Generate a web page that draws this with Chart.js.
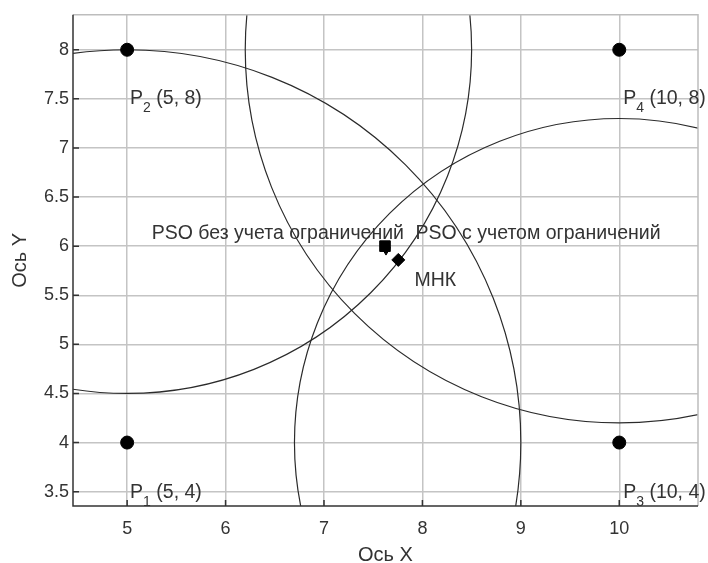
<!DOCTYPE html>
<html>
<head>
<meta charset="utf-8">
<script src="https://cdn.jsdelivr.net/npm/chart.js@4.4.0/dist/chart.umd.min.js"></script>
<style>
  html, body { margin: 0; padding: 0; background: #fff; }
  #wrap { width: 708px; height: 563px; }
</style>
</head>
<body>
<div id="wrap"><canvas id="chart"></canvas></div>
<script>
// Anchor points (P1..P4)
const anchorX = [5, 5, 10, 10];
const anchorY = [4, 8, 4, 8];
const anchorNames = ['1', '2', '3', '4'];
// Measured distance from each anchor (circle radius)
const radii = [4, 3.5, 3.3, 3.8];

// Position estimates
const psoFreeX = [7.62];
const psoFreeY = [6.0];
const psoBoundX = [7.63];
const psoBoundY = [5.96];
const lsqX = [7.755];
const lsqY = [5.86];

const xTicks = [5, 6, 7, 8, 9, 10];
const yTicks = [3.5, 4, 4.5, 5, 5.5, 6, 6.5, 7, 7.5, 8];

const textColor = '#333';
const fontFamily = '"Liberation Sans", Arial, sans-serif';

// Text labels in data coordinates
const labels = [
    { x: 5.03, y: 3.49, text: 'P', sub: anchorNames[0], rest: ' (5, 4)' },
    { x: 5.03, y: 7.5, text: 'P', sub: anchorNames[1], rest: ' (5, 8)' },
    { x: 10.04, y: 3.49, text: 'P', sub: anchorNames[2], rest: ' (10, 4)' },
    { x: 10.04, y: 7.5, text: 'P', sub: anchorNames[3], rest: ' (10, 8)' },
    { x: 5.25, y: 6.125, text: 'PSO без учета ограничений' },
    { x: 7.93, y: 6.125, text: 'PSO с учетом ограничений' },
    { x: 7.92, y: 5.65, text: 'МНК' }
];

const circlesPlugin = {
    id: 'circles',
    beforeDatasetsDraw(chart) {
        const { ctx, chartArea, scales: { x, y } } = chart;
        ctx.save();
        ctx.beginPath();
        ctx.rect(chartArea.left, chartArea.top, chartArea.right - chartArea.left, chartArea.bottom - chartArea.top);
        ctx.clip();
        ctx.strokeStyle = '#2b2b2b';
        ctx.lineWidth = 1.2;
        anchorX.forEach((cx, i) => {
            const px = x.getPixelForValue(cx);
            const py = y.getPixelForValue(anchorY[i]);
            const rx = Math.abs(x.getPixelForValue(cx + radii[i]) - px);
            const ry = Math.abs(y.getPixelForValue(anchorY[i] + radii[i]) - py);
            ctx.beginPath();
            ctx.ellipse(px, py, rx, ry, 0, 0, Math.PI * 2);
            ctx.stroke();
        });
        ctx.restore();
    }
};

const framePlugin = {
    id: 'frame',
    afterDraw(chart) {
        const { ctx, chartArea: a, scales: { x, y } } = chart;
        ctx.save();
        // light top and right edges
        ctx.strokeStyle = '#bdbdbd';
        ctx.lineWidth = 1.5;
        ctx.beginPath();
        ctx.moveTo(a.left, a.top);
        ctx.lineTo(a.right, a.top);
        ctx.lineTo(a.right, a.bottom);
        ctx.stroke();
        // dark axes with inward ticks
        ctx.strokeStyle = '#333';
        ctx.lineWidth = 1.5;
        ctx.beginPath();
        ctx.moveTo(a.left, a.top);
        ctx.lineTo(a.left, a.bottom);
        ctx.lineTo(a.right, a.bottom);
        xTicks.forEach(v => {
            const px = x.getPixelForValue(v);
            ctx.moveTo(px, a.bottom);
            ctx.lineTo(px, a.bottom - 6);
        });
        yTicks.forEach(v => {
            const py = y.getPixelForValue(v);
            ctx.moveTo(a.left, py);
            ctx.lineTo(a.left + 6, py);
        });
        ctx.stroke();

        // labels
        ctx.fillStyle = textColor;
        ctx.textBaseline = 'middle';
        ctx.textAlign = 'left';
        labels.forEach(l => {
            let px = x.getPixelForValue(l.x);
            const py = y.getPixelForValue(l.y);
            ctx.font = '19.5px ' + fontFamily;
            ctx.fillText(l.text, px, py);
            px += ctx.measureText(l.text).width;
            if (l.sub) {
                ctx.font = '14px ' + fontFamily;
                ctx.fillText(l.sub, px, py + 9);
                px += ctx.measureText(l.sub).width;
                ctx.font = '19.5px ' + fontFamily;
                ctx.fillText(l.rest, px, py);
            }
        });
        ctx.restore();
    }
};

const toPoints = (xs, ys) => xs.map((v, i) => ({ x: v, y: ys[i] }));

new Chart(document.getElementById('chart'), {
    type: 'scatter',
    data: {
        datasets: [
            {
                label: 'P',
                data: toPoints(anchorX, anchorY),
                pointStyle: 'circle',
                pointRadius: 6.5,
                backgroundColor: '#000',
                borderColor: '#000'
            },
            {
                label: 'PSO без учета ограничений',
                data: toPoints(psoFreeX, psoFreeY),
                pointStyle: 'rect',
                pointRadius: 7.5,
                backgroundColor: '#000',
                borderColor: '#000'
            },
            {
                label: 'PSO с учетом ограничений',
                data: toPoints(psoBoundX, psoBoundY),
                pointStyle: 'triangle',
                rotation: 180,
                pointRadius: 5,
                backgroundColor: '#000',
                borderColor: '#000'
            },
            {
                label: 'МНК',
                data: toPoints(lsqX, lsqY),
                pointStyle: 'rectRot',
                pointRadius: 6.5,
                backgroundColor: '#000',
                borderColor: '#000'
            }
        ]
    },
    options: {
        responsive: true,
        maintainAspectRatio: false,
        animation: false,
        layout: { padding: { top: 14, right: 10, left: 0, bottom: 0 } },
        plugins: {
            legend: { display: false },
            tooltip: { enabled: false }
        },
        scales: {
            x: {
                type: 'linear',
                min: 4.45,
                max: 10.8,
                afterBuildTicks: s => { s.ticks = xTicks.map(v => ({ value: v })); },
                afterFit: s => { s.height = 57; },
                ticks: {
                    color: textColor,
                    font: { size: 18, family: fontFamily },
                    padding: 12,
                    callback: v => String(v)
                },
                grid: { color: '#c4c4c4', lineWidth: 1.5, drawTicks: false },
                border: { display: false },
                title: {
                    display: true,
                    text: 'Ось X',
                    color: textColor,
                    font: { size: 20, family: fontFamily, lineHeight: 0.8 },
                    padding: { top: 0, bottom: 0 }
                }
            },
            y: {
                type: 'linear',
                min: 3.354,
                max: 8.356,
                afterBuildTicks: s => { s.ticks = yTicks.map(v => ({ value: v })); },
                afterFit: s => { s.width = 73; },
                ticks: {
                    color: textColor,
                    font: { size: 18, family: fontFamily },
                    padding: 4,
                    callback: v => String(v)
                },
                grid: { color: '#c4c4c4', lineWidth: 1.5, drawTicks: false },
                border: { display: false },
                title: {
                    display: true,
                    text: 'Ось Y',
                    color: textColor,
                    font: { size: 20, family: fontFamily, lineHeight: 1 },
                    padding: { top: 10, bottom: 0 }
                }
            }
        }
    },
    plugins: [circlesPlugin, framePlugin]
});
</script>
</body>
</html>
